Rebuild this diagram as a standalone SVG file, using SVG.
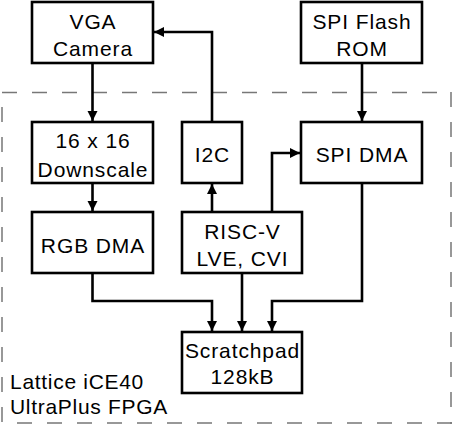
<svg xmlns="http://www.w3.org/2000/svg" width="454" height="424" viewBox="0 0 454 424">
<style>
.box{fill:#fff;stroke:#000;stroke-width:2.6}
.t{font-family:"Liberation Sans",Arial,Helvetica,sans-serif;font-size:21px;letter-spacing:0.9px;fill:#000;text-anchor:middle}
.lbl{font-family:"Liberation Sans",Arial,Helvetica,sans-serif;font-size:21px;letter-spacing:0.7px;fill:#000}
.c{fill:none;stroke:#000;stroke-width:2.6;marker-end:url(#ah)}
.d{stroke:#777;stroke-width:1.5;stroke-dasharray:15 15;fill:none}
</style>
<defs>
<marker id="ah" markerUnits="userSpaceOnUse" markerWidth="11" markerHeight="11" refX="10" refY="5" orient="auto">
<path d="M0,0 L10,5 L0,10 z" fill="#000"/>
</marker>
</defs>
<rect width="454" height="424" fill="#fff"/>
<g id="fpga-border">
<line class="d" x1="2" y1="92.5" x2="452" y2="92.5"/>
<line class="d" x1="451" y1="92" x2="451" y2="424"/>
<line class="d" x1="2" y1="423" x2="452" y2="423" stroke-dashoffset="15"/>
<line class="d" x1="2" y1="92" x2="2" y2="424" stroke-dashoffset="15"/>
<text class="lbl" x="10" y="388.5">Lattice iCE40</text>
<text class="lbl" x="10" y="413.5">UltraPlus FPGA</text>
</g>
<g id="connectors">
<path class="c" d="M92.5,63 V121"/>
<path class="c" d="M92.5,183 V211"/>
<path class="c" d="M92.5,273 V301 H212 V331"/>
<path class="c" d="M242,273 V331"/>
<path class="c" d="M362,183 V301 H272 V331"/>
<path class="c" d="M212,212 V184"/>
<path class="c" d="M272,212 V153 H300"/>
<path class="c" d="M212,122 V32 H154"/>
<path class="c" d="M362,63 V121"/>
</g>
<g id="vga-camera">
<rect class="box" x="32" y="2" width="121" height="61"/>
<text class="t" x="93" y="28.5">VGA</text>
<text class="t" x="93" y="55.5">Camera</text>
</g>
<g id="spi-flash-rom">
<rect class="box" x="301" y="2" width="121" height="61"/>
<text class="t" x="362" y="28.5">SPI Flash</text>
<text class="t" x="362" y="55.5">ROM</text>
</g>
<g id="downscale">
<rect class="box" x="32" y="122" width="121" height="61"/>
<text class="t" x="93" y="147.5">16 x 16</text>
<text class="t" x="93" y="176.5">Downscale</text>
</g>
<g id="i2c">
<rect class="box" x="182" y="122" width="60" height="61"/>
<text class="t" x="212.5" y="161.5">I2C</text>
</g>
<g id="spi-dma">
<rect class="box" x="301" y="122" width="121" height="61"/>
<text class="t" x="362" y="162">SPI DMA</text>
</g>
<g id="rgb-dma">
<rect class="box" x="32" y="212" width="121" height="61"/>
<text class="t" x="93" y="252.5">RGB DMA</text>
</g>
<g id="risc-v">
<rect class="box" x="182" y="212" width="120" height="61"/>
<text class="t" x="242.5" y="238.5">RISC-V</text>
<text class="t" x="242.5" y="265.5">LVE, CVI</text>
</g>
<g id="scratchpad">
<rect class="box" x="182" y="332" width="120" height="61"/>
<text class="t" x="242.5" y="357.5">Scratchpad</text>
<text class="t" x="242.5" y="383.5">128kB</text>
</g>
</svg>
